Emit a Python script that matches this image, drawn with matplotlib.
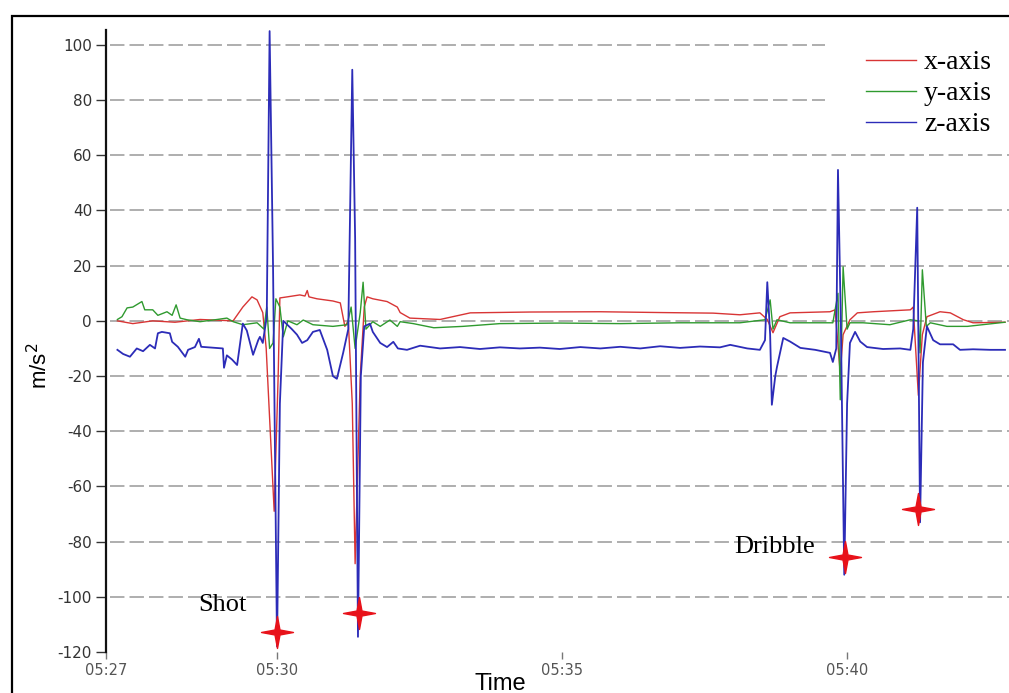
import numpy as np
import matplotlib
matplotlib.use("Agg")
import matplotlib.pyplot as plt
from matplotlib.path import Path
from matplotlib.patches import Rectangle

# time in minutes after 05:27
start_label = "05:27"
tick_labels = ["05:27", "05:30", "05:35", "05:40"]

x_t = [0.2, 0.47, 0.82, 1.21, 1.65, 2.23, 2.40, 2.56, 2.65, 2.75, 2.81, 2.95, 3.02, 3.05,
       3.18, 3.40, 3.49, 3.53, 3.56, 3.70, 3.98, 4.11, 4.19, 4.25, 4.32, 4.37, 4.46, 4.53,
       4.58, 4.68, 4.93, 5.11, 5.16, 5.33, 5.86, 6.39, 7.44, 8.67, 9.77, 10.65, 11.12,
       11.47, 11.60, 11.70, 11.82, 12.0, 12.70, 12.79, 12.88, 12.93, 13.05, 13.18, 13.46,
       14.11, 14.16, 14.25, 14.32, 14.40, 14.63, 14.81, 15.04, 15.21, 15.77]
x_v = [0, -1, 0, -0.5, 0.5, 0, 5, 8.7, 7.6, 3, -10, -69, -20, 8.3,
       8.7, 9.4, 9, 11, 8.7, 8, 7.2, 6.5, -2, 0, -30, -88, -20, 5,
       8.7, 8, 7, 5, 3, 1, 0.5, 2.9, 3.2, 3.3, 3, 2.8, 2.2,
       2.9, 0.5, -4.3, 1.5, 2.9, 3.3, 4, -19, -5, 0.4, 2.9, 3.3,
       4, 5, -27, -5, 1.5, 3.3, 2.9, 0.4, -0.7, -0.5]

y_t = [0.2, 0.28, 0.37, 0.47, 0.63, 0.68, 0.82, 0.91, 1.07, 1.16, 1.23, 1.30, 1.42, 1.65,
       1.95, 2.12, 2.23, 2.40, 2.65, 2.77, 2.82, 2.87, 2.93, 2.98, 3.05, 3.11, 3.19, 3.35,
       3.46, 3.63, 3.98, 4.23, 4.30, 4.37, 4.46, 4.51, 4.56, 4.68, 4.81, 4.98, 5.11, 5.16,
       5.39, 5.75, 6.26, 6.91, 7.96, 9.02, 10.07, 11.12, 11.56, 11.65, 11.70, 11.77, 12.0,
       12.75, 12.84, 12.88, 12.93, 13.00, 13.05, 13.28, 13.75, 14.11, 14.25, 14.28, 14.32,
       14.39, 14.46, 14.75, 15.11, 15.77]
y_v = [0.5, 1.5, 4.7, 5, 7, 4, 4, 2, 3.3, 2, 5.8, 1, 0.4, -0.3,
       0.5, 1, -0.3, -1.4, -0.7, -3, 5, -10, -8, 8, 5, -5.8, 0, -1.4,
       0.3, -1.4, -2, -1.4, 5, -10, 3, 14, -3, -0.3, -2, 0.3, -2, -0.3,
       -1, -2.5, -2, -1, -0.8, -1, -0.7, -0.7, 0.4, 7.6, -3, 0.4, -0.7,
       -0.7, 10, -28.6, 19.6, -3, -0.7, -0.7, -1.4, 0.4, 0, -11.6, 18.5,
       -2, -0.7, -2, -2, -0.5]

z_t = [0.2, 0.30, 0.42, 0.54, 0.65, 0.77, 0.86, 0.91, 0.98, 1.12, 1.16, 1.26, 1.39, 1.44,
       1.56, 1.63, 1.67, 2.05, 2.07, 2.12, 2.21, 2.30, 2.40, 2.47, 2.58, 2.67, 2.70, 2.75,
       2.82, 2.87, 2.93, 3.00, 3.05, 3.11, 3.18, 3.26, 3.35, 3.44, 3.53, 3.63, 3.75, 3.88,
       3.98, 4.05, 4.16, 4.25, 4.32, 4.37, 4.42, 4.47, 4.53, 4.63, 4.68, 4.81, 4.93, 5.04,
       5.12, 5.28, 5.51, 5.86, 6.21, 6.56, 6.91, 7.26, 7.61, 7.96, 8.32, 8.67, 9.02, 9.37,
       9.72, 10.07, 10.42, 10.77, 10.95, 11.25, 11.47, 11.56, 11.60, 11.65, 11.68, 11.74,
       11.77, 11.88, 12.0, 12.18, 12.44, 12.70, 12.75, 12.81, 12.84, 12.89, 12.95, 13.00,
       13.05, 13.14, 13.23, 13.35, 13.63, 13.93, 14.11, 14.16, 14.23, 14.28, 14.33, 14.40,
       14.51, 14.63, 14.86, 14.98, 15.21, 15.51, 15.77]
z_v = [-10.5, -12, -13, -10, -11, -8.7, -10, -4.5, -4, -4.5, -7.6, -9.4, -13, -10.5,
       -9.5, -6.5, -9.4, -10, -17, -12.5, -14, -16, -1, -3.5, -12.3, -7, -5.8, -8,
       1.5, 105, 20, -118, -30, 0, -1.4, -3, -5, -8, -7, -4, -3.3, -10.5,
       -20, -21, -11.6, -3, 91, 30, -114.5, -20, -2, -1, -4, -8, -9.5, -7.6,
       -10, -10.5, -9, -10, -9.5, -10.2, -9.6, -10, -9.7, -10.2, -9.5, -10, -9.4, -10,
       -9.2, -9.8, -9.3, -9.6, -8.7, -10, -10.5, -7, 14, -5, -30.4, -20,
       -16.7, -6.2, -7.5, -9.8, -10.5, -11.6, -14.9, -10, 54.7, 0, -92, -30,
       -8, -4, -7.5, -9.5, -10.2, -10, -10.5, -3, 41, -73, -15, -2,
       -7, -8.5, -8.5, -10.5, -10.3, -10.5, -10.5]

# red star markers at the impact minima
star_t = [3.0, 4.44, 12.96, 14.25]
star_v = [-112.7, -105.8, -85.5, -68.1]

grid_vals = [100, 80, 60, 40, 20, 0, -20, -40, -60, -80, -100]
y_ticks = [100, 80, 60, 40, 20, 0, -20, -40, -60, -80, -100, -120]


def to_min(lbl):
    h, m = lbl.split(":")
    return int(h) * 60 + int(m)


tick_pos = [to_min(l) - to_min(start_label) for l in tick_labels]

fig = plt.figure(figsize=(10.09, 6.93), dpi=100)
ax = fig.add_axes([106 / 1009, 1 - 652 / 693, 1 - 106 / 1009, 622 / 693])

for g in grid_vals:
    xmax = 0.796 if g >= 80 else 1.0
    ax.axhline(g, xmin=0.004, xmax=xmax, color="#a8a8a8", lw=1.3,
               linestyle=(0, (8, 2.8)), zorder=1)

ax.plot(x_t, x_v, color="#d83535", lw=1.0, label="x-axis", zorder=3)
ax.plot(y_t, y_v, color="#2f9a2f", lw=1.0, label="y-axis", zorder=3)
ax.plot(z_t, z_v, color="#2c2cb8", lw=1.3, label="z-axis", zorder=4)

star = Path.unit_regular_star(4, innerCircle=0.22)
ax.plot(star_t, star_v, linestyle="none", marker=star, markersize=23,
        color="#e8121a", zorder=6, clip_on=False)

ax.text(2.04, -102.9, "Shot", fontsize=19, family="Liberation Serif",
        ha="center", va="center", zorder=7)
ax.text(11.72, -81.9, "Dribble", fontsize=19, family="Liberation Serif",
        ha="center", va="center", zorder=7)

ax.set_xlim(0, 15.84)
ax.set_ylim(-120, 105.4)
ax.set_yticks(y_ticks)
ax.set_yticklabels([str(v) for v in y_ticks])
ax.set_xticks(tick_pos)
ax.set_xticklabels(tick_labels)

for s in ["top", "right", "bottom"]:
    ax.spines[s].set_visible(False)
ax.spines["left"].set_linewidth(1.6)
ax.spines["left"].set_color("#111111")

ax.tick_params(axis="y", length=7, width=1, color="#333333", labelsize=11,
               labelcolor="#333333", pad=3)
ax.tick_params(axis="x", length=5, width=1, color="#777777", labelsize=10.5,
               labelcolor="#555555", pad=3)

ax.set_ylabel("m/s$^2$", fontsize=16, family="Liberation Sans")
ax.yaxis.set_label_coords(-0.06, 0.46)
ax.set_xlabel("Time", fontsize=17, family="Liberation Sans")
ax.xaxis.set_label_coords(0.437, -0.033)

leg = ax.legend(loc="upper right", bbox_to_anchor=(0.981, 0.968), frameon=False,
                prop={"family": "Liberation Serif", "size": 20},
                handlelength=1.8, handletextpad=0.3, labelspacing=0.2,
                borderpad=0, borderaxespad=0)
for h in leg.get_lines():
    h.set_linewidth(1.0)

fig.patches.append(Rectangle((12 / 1009, -0.1), 1.2, 1.1 - 16 / 693,
                             transform=fig.transFigure, fill=False,
                             edgecolor="black", lw=1.6, zorder=10))

fig.savefig("out.png", dpi=100)
